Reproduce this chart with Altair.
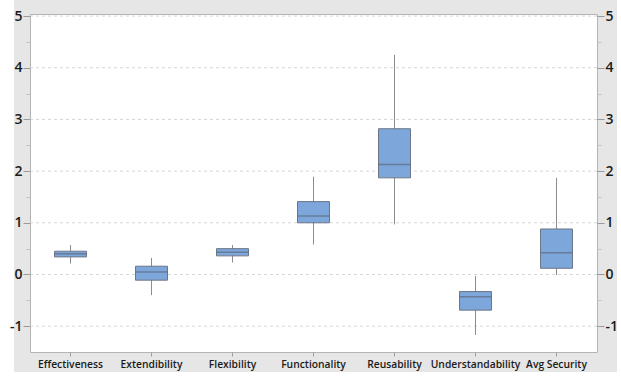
import altair as alt
import pandas as pd

# Five-number summaries for each quality attribute
categories = ["Effectiveness", "Extendibility", "Flexibility", "Functionality",
              "Reusability", "Understandability", "Avg Security"]
whisker_low = [0.21, -0.40, 0.23, 0.58, 0.97, -1.17, -0.01]
q1 = [0.34, -0.11, 0.36, 1.00, 1.87, -0.69, 0.12]
median = [0.40, 0.05, 0.43, 1.13, 2.13, -0.43, 0.42]
q3 = [0.45, 0.16, 0.50, 1.41, 2.82, -0.33, 0.88]
whisker_high = [0.57, 0.32, 0.57, 1.89, 4.25, -0.03, 1.87]

y_ticks = [-1, -0.5, 0, 0.5, 1, 1.5, 2, 2.5, 3, 3.5, 4, 4.5, 5]
grid_values = [-1, 0, 1, 2, 3, 4, 5]

df = pd.DataFrame({
    "category": categories,
    "low": whisker_low,
    "q1": q1,
    "median": median,
    "q3": q3,
    "high": whisker_high,
})

W, H = 567, 338
FONT = "Open Sans"
major = "datum.value % 1 === 0"

x_enc = alt.X(
    "category:N", sort=categories, title=None,
    scale=alt.Scale(paddingInner=0, paddingOuter=0),
    axis=alt.Axis(labelAngle=0, domain=False, tickSize=4, tickColor="#a0a0a0",
                  labelFont=FONT, labelFontSize=10.3, labelFontWeight=600,
                  labelColor="#1a1a1a", labelPadding=3, zindex=1),
)
y_scale = alt.Scale(domain=[-1.5, 5.04], nice=False, zero=False)


def y_axis(orient):
    return alt.Axis(
        orient=orient, title=None, values=y_ticks, domain=False, grid=False,
        tickSize={"condition": {"test": major, "value": 7}, "value": 4},
        tickColor={"condition": {"test": major, "value": "#9a9a9a"}, "value": "#c4c4c4"},
        labelExpr=f"{major} ? '' + datum.value : ''",
        labelFont=FONT, labelFontSize=14, labelFontWeight=600,
        labelColor="#1a1a1a", labelPadding=1, zindex=1,
    )


# Dashed horizontal gridlines at whole units
grid = alt.Chart(pd.DataFrame({"v": grid_values})).mark_rule(
    color="#d6d6d6", strokeDash=[3, 3], strokeWidth=1
).encode(
    y=alt.Y("v:Q", scale=y_scale, axis=None),
    x=alt.value(0), x2=alt.value(W),
)

base = alt.Chart(df)

whiskers = base.mark_rule(color="#8c8c8c", strokeWidth=1).encode(
    x=x_enc,
    y=alt.Y("low:Q", scale=y_scale, axis=y_axis("left")),
    y2="high:Q",
)

boxes = base.mark_bar(size=32, color="#7da6da", stroke="#6c7686", strokeWidth=1).encode(
    x=x_enc,
    y=alt.Y("q1:Q", scale=y_scale, axis=y_axis("right")),
    y2="q3:Q",
)

medians = base.mark_tick(size=32, thickness=1.5, color="#5d6b7e").encode(
    x=x_enc,
    y=alt.Y("median:Q", scale=y_scale, axis=None),
)

# White margins around the grey panel
one = alt.Data(values=[{"k": 1}])
left_strip = alt.Chart(one).mark_rect(color="white").encode(
    x=alt.value(-31), x2=alt.value(-16), y=alt.value(-15), y2=alt.value(H + 26))
right_strip = alt.Chart(one).mark_rect(color="white").encode(
    x=alt.value(587), x2=alt.value(600), y=alt.value(-15), y2=alt.value(H + 26))
bottom_strip = alt.Chart(one).mark_rect(color="white").encode(
    x=alt.value(-31), x2=alt.value(600), y=alt.value(H + 20), y2=alt.value(H + 26))

chart = alt.layer(
    left_strip, right_strip, bottom_strip, grid, whiskers, boxes, medians
).resolve_axis(y="independent").properties(
    width=W, height=H,
    autosize=alt.AutoSizeParams(type="none"),
    padding={"left": 30, "top": 14, "right": 24, "bottom": 25},
    background="#e6e6e6",
).configure_view(fill="white", stroke="#b4b4b4", strokeWidth=1)

chart.save("out.html", embed_options={"renderer": "svg", "actions": False})
